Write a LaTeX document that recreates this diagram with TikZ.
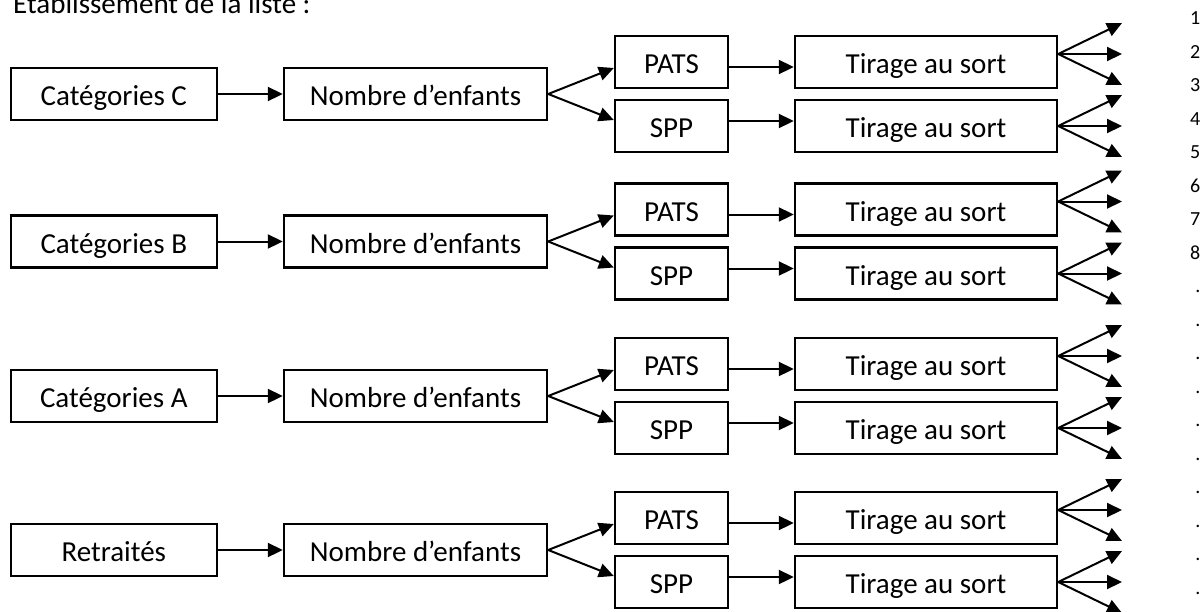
\documentclass[tikz,border=0pt]{standalone}
\usepackage{fontspec}
\setmainfont{Carlito}
\usetikzlibrary{arrows.meta}

\tikzset{
	box/.style={draw, line width=2.4pt, minimum height=52pt, inner sep=0pt,
		text height=23pt, text depth=0pt, font=\fontsize{29}{35}\selectfont},
	catbox/.style={box, minimum width=206pt},
	nbbox/.style={box, minimum width=263pt},
	pbox/.style={box, minimum width=113pt},
	tbox/.style={box, minimum width=262pt},
	fleche/.style={-{Triangle[length=15pt,width=14pt]}, line width=2pt},
}

\begin{document}
\begin{tikzpicture}[x=1pt,y=-1pt]
	\useasboundingbox (0,0) rectangle (1204,611);

	\node [anchor=base west, inner sep=0pt, font=\fontsize{29}{35}\selectfont] (titre) at (13,13) {Établissement de la liste :};

	% Categories C
	\node [catbox] (cat1)  at (113.8,94)  {Catégories C};
	\node [nbbox]  (nb1)   at (415.5,94)  {Nombre d’enfants};
	\node [pbox]   (pats1) at (671.5,62)  {PATS};
	\node [pbox]   (spp1)  at (671.5,126) {SPP};
	\node [tbox]   (tp1)   at (926,62)    {Tirage au sort};
	\node [tbox]   (ts1)   at (926,126)   {Tirage au sort};

	% Categories B
	\node [catbox] (cat2)  at (113.8,241.5) {Catégories B};
	\node [nbbox]  (nb2)   at (415.5,241.5) {Nombre d’enfants};
	\node [pbox]   (pats2) at (671.5,209.5) {PATS};
	\node [pbox]   (spp2)  at (671.5,273.5) {SPP};
	\node [tbox]   (tp2)   at (926,209.5)   {Tirage au sort};
	\node [tbox]   (ts2)   at (926,273.5)   {Tirage au sort};

	% Categories A
	\node [catbox] (cat3)  at (113.8,396) {Catégories A};
	\node [nbbox]  (nb3)   at (415.5,396) {Nombre d’enfants};
	\node [pbox]   (pats3) at (671.5,364) {PATS};
	\node [pbox]   (spp3)  at (671.5,428) {SPP};
	\node [tbox]   (tp3)   at (926,364)   {Tirage au sort};
	\node [tbox]   (ts3)   at (926,428)   {Tirage au sort};

	% Retraites
	\node [catbox] (cat4)  at (113.8,550) {Retraités};
	\node [nbbox]  (nb4)   at (415.5,550) {Nombre d’enfants};
	\node [pbox]   (pats4) at (671.5,518) {PATS};
	\node [pbox]   (spp4)  at (671.5,582) {SPP};
	\node [tbox]   (tp4)   at (926,518)   {Tirage au sort};
	\node [tbox]   (ts4)   at (926,582)   {Tirage au sort};

	% bouts des fleches
	\coordinate (a1) at (1122,23);    \coordinate (b1) at (1122,54);    \coordinate (c1) at (1122,85);
	\coordinate (d1) at (1122,95);    \coordinate (e1) at (1122,126);   \coordinate (f1) at (1122,157);
	\coordinate (a2) at (1122,170.5); \coordinate (b2) at (1122,201.5); \coordinate (c2) at (1122,232.5);
	\coordinate (d2) at (1122,242.5); \coordinate (e2) at (1122,273.5); \coordinate (f2) at (1122,304.5);
	\coordinate (a3) at (1122,325);   \coordinate (b3) at (1122,356);   \coordinate (c3) at (1122,387);
	\coordinate (d3) at (1122,397);   \coordinate (e3) at (1122,428);   \coordinate (f3) at (1122,459);
	\coordinate (a4) at (1122,479);   \coordinate (b4) at (1122,510);   \coordinate (c4) at (1122,541);
	\coordinate (d4) at (1122,551);   \coordinate (e4) at (1122,582);   \coordinate (f4) at (1122,613);

	\path [fleche]
	(cat1) edge (nb1)
	(nb1.east) edge ([yshift=-6pt]pats1.west)
	(nb1.east) edge ([yshift=6pt]spp1.west)
	([yshift=-5pt]pats1.east) edge ([yshift=-5pt]tp1.west)
	([yshift=5pt]spp1.east) edge ([yshift=5pt]ts1.west)
	([yshift=8pt]tp1.east) edge (a1) edge (b1) edge (c1)
	(ts1.east) edge (d1) edge (e1) edge (f1)
	(cat2) edge (nb2)
	(nb2.east) edge ([yshift=-6pt]pats2.west)
	(nb2.east) edge ([yshift=6pt]spp2.west)
	([yshift=-5pt]pats2.east) edge ([yshift=-5pt]tp2.west)
	([yshift=5pt]spp2.east) edge ([yshift=5pt]ts2.west)
	([yshift=8pt]tp2.east) edge (a2) edge (b2) edge (c2)
	(ts2.east) edge (d2) edge (e2) edge (f2)
	(cat3) edge (nb3)
	(nb3.east) edge ([yshift=-6pt]pats3.west)
	(nb3.east) edge ([yshift=6pt]spp3.west)
	([yshift=-5pt]pats3.east) edge ([yshift=-5pt]tp3.west)
	([yshift=5pt]spp3.east) edge ([yshift=5pt]ts3.west)
	([yshift=8pt]tp3.east) edge (a3) edge (b3) edge (c3)
	(ts3.east) edge (d3) edge (e3) edge (f3)
	(cat4) edge (nb4)
	(nb4.east) edge ([yshift=-6pt]pats4.west)
	(nb4.east) edge ([yshift=6pt]spp4.west)
	([yshift=-5pt]pats4.east) edge ([yshift=-5pt]tp4.west)
	([yshift=5pt]spp4.east) edge ([yshift=5pt]ts4.west)
	([yshift=8pt]tp4.east) edge (a4) edge (b4) edge (c4)
	(ts4.east) edge (d4) edge (e4) edge (f4);

	\node [anchor=north east, align=right, inner sep=0pt, font=\fontsize{20}{33.5}\selectfont] (liste) at (1200.5,11.9)
	{1\\2\\3\\4\\5\\6\\7\\8\\.\\.\\.\\.\\.\\.\\.\\.\\.\\.};
\end{tikzpicture}
\end{document}
